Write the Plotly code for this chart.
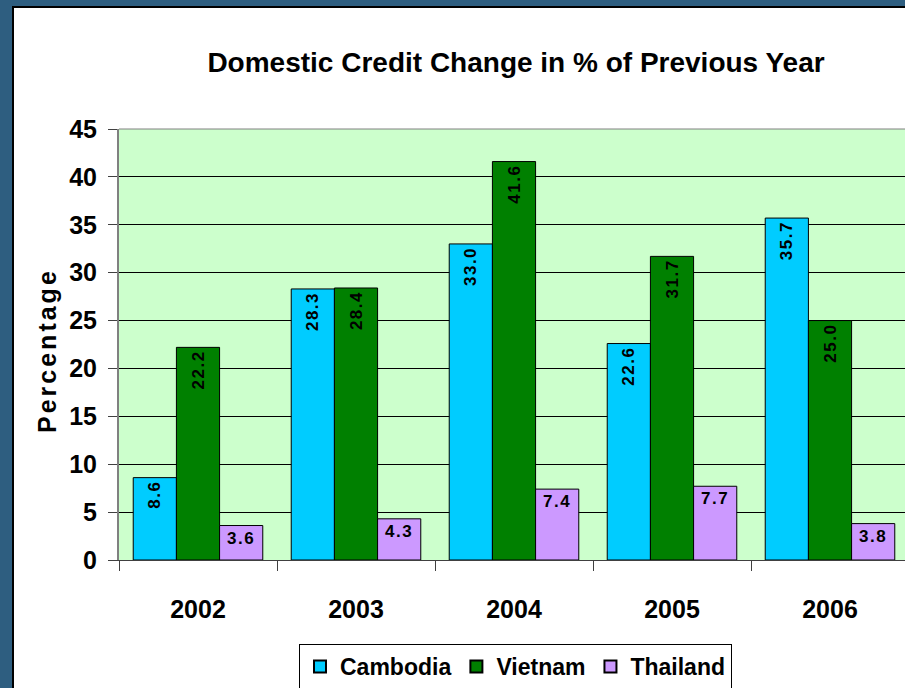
import plotly.graph_objects as go

# Domestic credit growth, % change over previous year
years = ["2002", "2003", "2004", "2005", "2006"]
cambodia = [8.6, 28.3, 33.0, 22.6, 35.7]
vietnam = [22.2, 28.4, 41.6, 31.7, 25.0]
thailand = [3.6, 4.3, 7.4, 7.7, 3.8]

series_names = ["Cambodia", "Vietnam", "Thailand"]
series_colors = ["#00CCFF", "#008000", "#CC99FF"]
y_ticks = [0, 5, 10, 15, 20, 25, 30, 35, 40, 45]

W, H = 905, 688
ML, MR, MT, MB = 119, 0, 129, 128
PW, PH = W - ML - MR, H - MT - MB

FONT = "Liberation Sans, Arial, Helvetica, sans-serif"


def px_x(p):
    """Pixel column -> paper x."""
    return (p - ML) / PW


def px_y(p):
    """Pixel row -> paper y."""
    return (H - MB - p) / PH


fig = go.Figure()
for name, vals, color in zip(series_names, [cambodia, vietnam, thailand], series_colors):
    rotated = name != "Thailand"
    fig.add_trace(go.Bar(
        name=name,
        x=years,
        y=vals,
        marker=dict(color=color, line=dict(color="#000000", width=1)),
        texttemplate='<span style="letter-spacing:1.5px">%{y:.1f}</span>',
        textposition="inside",
        insidetextanchor="end",
        textangle=-90 if rotated else 0,
        insidetextfont=dict(family=FONT, size=17, color="#000000", weight="bold"),
        constraintext="none",
        cliponaxis=False,
    ))

shapes = [
    # dark blue slide frame (left and top) with its black inner edge
    dict(type="rect", xref="paper", yref="paper", x0=px_x(0), x1=px_x(12), y0=px_y(H), y1=px_y(0),
         fillcolor="#2E5E80", line=dict(width=0), layer="above"),
    dict(type="rect", xref="paper", yref="paper", x0=px_x(0), x1=px_x(W), y0=px_y(6), y1=px_y(0),
         fillcolor="#2E5E80", line=dict(width=0), layer="above"),
    dict(type="rect", xref="paper", yref="paper", x0=px_x(12), x1=px_x(14), y0=px_y(H), y1=px_y(6),
         fillcolor="#000000", line=dict(width=0), layer="above"),
    dict(type="rect", xref="paper", yref="paper", x0=px_x(12), x1=px_x(W), y0=px_y(8), y1=px_y(6),
         fillcolor="#000000", line=dict(width=0), layer="above"),
    # grey top edge of the plot area
    dict(type="line", xref="paper", yref="paper", x0=0, x1=1, y0=1, y1=1,
         line=dict(color="#808080", width=1), layer="above"),
]

annotations = [
    dict(
        text='<span style="letter-spacing:3px"><b>Percentage</b></span>',
        xref="paper", yref="paper", x=px_x(47), y=px_y(351),
        xanchor="center", yanchor="middle", textangle=-90, showarrow=False,
        font=dict(family=FONT, size=25, color="#000000"),
    ),
]

fig.update_layout(
    width=W, height=H,
    margin=dict(l=ML, r=MR, t=MT, b=MB, autoexpand=False),
    paper_bgcolor="#FFFFFF",
    plot_bgcolor="#CCFFCC",
    barmode="group",
    bargap=0.18,
    bargroupgap=0,
    font=dict(family=FONT, color="#000000"),
    title=dict(
        text="<b>Domestic Credit Change in % of Previous Year</b>",
        font=dict(family=FONT, size=28, color="#000000"),
        xref="container", x=516 / W, xanchor="center",
        yref="container", y=1 - 62 / H, yanchor="middle",
    ),
    xaxis=dict(
        type="category",
        range=[-0.5, 4.5 - 4 / 158],
        tickson="boundaries",
        ticks="outside", ticklen=10, tickcolor="#404040", tickwidth=1,
        showline=True, linecolor="#404040", linewidth=1,
        showgrid=False,
        tickfont=dict(family=FONT, size=25, color="#000000", weight="bold"),
        ticklabelstandoff=27,
    ),
    yaxis=dict(
        range=[0, 45],
        tickvals=y_ticks,
        ticks="outside", ticklen=9, tickcolor="#404040", tickwidth=1,
        showline=True, linecolor="#808080", linewidth=2,
        showgrid=True, gridcolor="#000000", gridwidth=1,
        zeroline=True, zerolinecolor="#404040", zerolinewidth=1,
        tickfont=dict(family=FONT, size=25, color="#000000", weight="bold"),
        ticklabelstandoff=6,
    ),
    legend=dict(
        orientation="h",
        xref="paper", x=px_x(515.5), xanchor="center",
        yref="paper", y=px_y(644), yanchor="top",
        bgcolor="#FFFFFF", bordercolor="#000000", borderwidth=1,
        font=dict(family=FONT, size=23, color="#000000", weight="bold"),
        itemsizing="constant",
        tracegroupgap=0,
    ),
    shapes=shapes,
    annotations=annotations,
    showlegend=True,
)

fig.write_html("out.html")
